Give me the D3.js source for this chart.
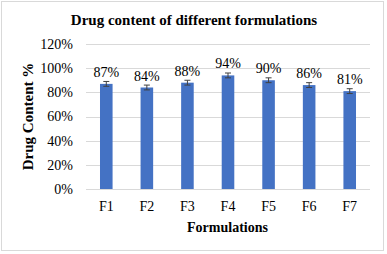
<!DOCTYPE html>
<html>
<head>
<meta charset="utf-8">
<script src="https://cdn.jsdelivr.net/npm/d3@7"></script>
<style>
  body { margin: 0; background: #fff; }
  text { font-family: "Liberation Serif", "Times New Roman", serif; fill: #000; }
</style>
</head>
<body>
<div id="chart"></div>
<script>
  const categories = ["F1", "F2", "F3", "F4", "F5", "F6", "F7"];
  const values = [0.87, 0.84, 0.88, 0.94, 0.90, 0.86, 0.81];
  const errors = [0.02, 0.02, 0.02, 0.02, 0.02, 0.02, 0.02];
  const yTicks = [0, 0.2, 0.4, 0.6, 0.8, 1.0, 1.2];

  const width = 387, height = 254;
  const margin = { top: 44, right: 17, bottom: 65, left: 86 };

  const svg = d3.select("#chart").append("svg")
    .attr("width", width)
    .attr("height", height);

  // chart border
  svg.append("rect")
    .attr("x", 1.5).attr("y", 1.5)
    .attr("width", width - 5).attr("height", height - 5)
    .attr("fill", "#fff")
    .attr("stroke", "#d9d9d9");

  const x = d3.scaleBand()
    .domain(categories)
    .range([margin.left, width - margin.right])
    .paddingInner(0.69)
    .paddingOuter(0.345);

  const y = d3.scaleLinear()
    .domain([0, 1.2])
    .range([height - margin.bottom, margin.top]);

  // gridlines
  svg.append("g")
    .selectAll("line")
    .data(yTicks)
    .enter()
    .append("line")
    .attr("x1", margin.left)
    .attr("x2", width - margin.right)
    .attr("y1", d => Math.round(y(d)) + 0.5)
    .attr("y2", d => Math.round(y(d)) + 0.5)
    .attr("stroke", "#d9d9d9");

  const yAxis = d3.axisLeft(y)
    .tickValues(yTicks)
    .tickSize(0)
    .tickPadding(13)
    .tickFormat(d3.format(".0%"));

  const gy = svg.append("g")
    .attr("transform", `translate(${margin.left},0)`)
    .call(yAxis);
  gy.select(".domain").remove();
  gy.selectAll("text").style("font-size", "14px");

  const xAxis = d3.axisBottom(x).tickSize(0).tickPadding(12);
  const gx = svg.append("g")
    .attr("transform", `translate(0,${height - margin.bottom})`)
    .call(xAxis);
  gx.select(".domain").remove();
  gx.selectAll("text").style("font-size", "14px");

  // bars
  svg.selectAll("rect.bar")
    .data(values)
    .enter()
    .append("rect")
    .attr("class", "bar")
    .attr("x", (d, i) => x(categories[i]))
    .attr("width", x.bandwidth())
    .attr("y", d => y(d))
    .attr("height", d => y(0) - y(d))
    .attr("fill", "#4472c4");

  // error bars
  const eb = svg.append("g").attr("stroke", "#404040").attr("stroke-width", 1);
  values.forEach((v, i) => {
    const cx = x(categories[i]) + x.bandwidth() / 2;
    eb.append("line")
      .attr("x1", cx).attr("x2", cx)
      .attr("y1", y(v - errors[i])).attr("y2", y(v + errors[i]));
    [v - errors[i], v + errors[i]].forEach(e => {
      eb.append("line")
        .attr("x1", cx - 3).attr("x2", cx + 3)
        .attr("y1", y(e)).attr("y2", y(e));
    });
  });

  // data labels
  svg.selectAll("text.valueLabel")
    .data(values)
    .enter()
    .append("text")
    .attr("class", "valueLabel")
    .attr("x", (d, i) => x(categories[i]) + x.bandwidth() / 2)
    .attr("y", d => y(d) - 7)
    .attr("text-anchor", "middle")
    .style("font-size", "14px")
    .text(d => d3.format(".0%")(d));

  // title
  svg.append("text")
    .attr("x", 194)
    .attr("y", 25)
    .attr("text-anchor", "middle")
    .style("font-size", "15px")
    .style("font-weight", "bold")
    .text("Drug content of different formulations");

  svg.append("text")
    .attr("x", width / 2 + 34)
    .attr("y", 232)
    .attr("text-anchor", "middle")
    .style("font-size", "14px")
    .style("font-weight", "bold")
    .text("Formulations");

  svg.append("text")
    .attr("transform", `translate(33,${y(0.6)}) rotate(-90)`)
    .attr("text-anchor", "middle")
    .style("font-size", "15px")
    .style("font-weight", "bold")
    .text("Drug Content %");
</script>
</body>
</html>
